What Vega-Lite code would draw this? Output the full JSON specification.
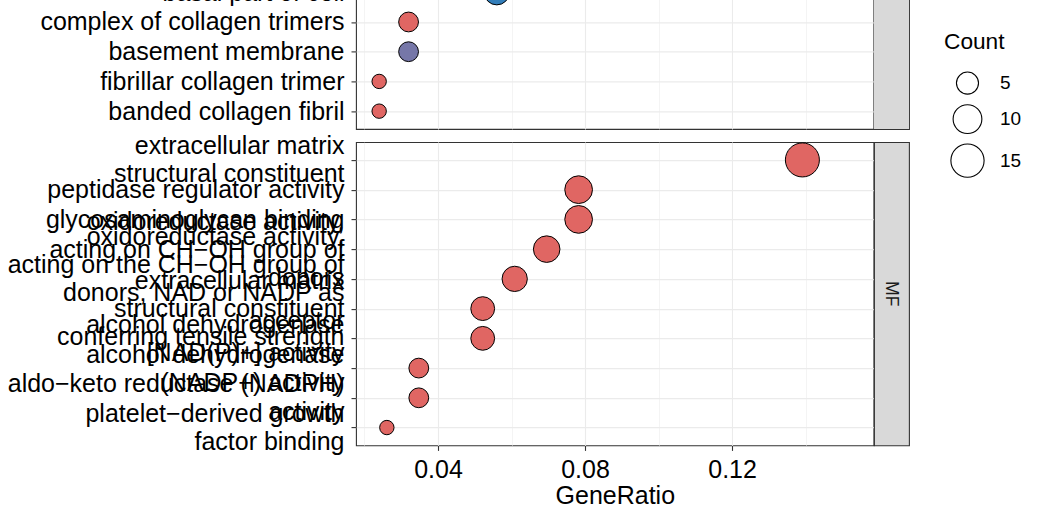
{
  "$schema": "https://vega.github.io/schema/vega-lite/v6.json",
  "autosize": {"type": "pad"},
  "padding": {"left": 6, "top": -26.6, "right": 5, "bottom": 5},
  "background": "white",
  "config": {
    "font": "Liberation Sans",
    "view": {"stroke": "#333333", "strokeWidth": 1.1},
    "axis": {"labelFont": "Liberation Sans", "titleFont": "Liberation Sans", "domain": false}
  },
  "datasets": {
    "go": [
      {"ont": "CC", "Description": "basal part of cell", "GeneRatio": 0.056, "Count": 7, "padj": 0.045},
      {"ont": "CC", "Description": "complex of collagen trimers", "GeneRatio": 0.032, "Count": 4, "padj": 0.001},
      {"ont": "CC", "Description": "basement membrane", "GeneRatio": 0.032, "Count": 4, "padj": 0.03},
      {"ont": "CC", "Description": "fibrillar collagen trimer", "GeneRatio": 0.024, "Count": 3, "padj": 0.001},
      {"ont": "CC", "Description": "banded collagen fibril", "GeneRatio": 0.024, "Count": 3, "padj": 0.001},
      {"ont": "MF", "Description": "extracellular matrix\nstructural constituent", "GeneRatio": 0.13913, "Count": 16, "padj": 0.001},
      {"ont": "MF", "Description": "peptidase regulator activity", "GeneRatio": 0.07826, "Count": 9, "padj": 0.001},
      {"ont": "MF", "Description": "glycosaminoglycan binding", "GeneRatio": 0.07826, "Count": 9, "padj": 0.001},
      {"ont": "MF", "Description": "oxidoreductase activity,\nacting on CH−OH group of\ndonors", "GeneRatio": 0.06957, "Count": 8, "padj": 0.001},
      {"ont": "MF", "Description": "oxidoreductase activity,\nacting on the CH−OH group of\ndonors, NAD or NADP as\nacceptor", "GeneRatio": 0.06087, "Count": 7, "padj": 0.001},
      {"ont": "MF", "Description": "extracellular matrix\nstructural constituent\nconferring tensile strength", "GeneRatio": 0.05217, "Count": 6, "padj": 0.001},
      {"ont": "MF", "Description": "alcohol dehydrogenase\n[NAD(P)+] activity", "GeneRatio": 0.05217, "Count": 6, "padj": 0.001},
      {"ont": "MF", "Description": "alcohol dehydrogenase\n(NADP+) activity", "GeneRatio": 0.03478, "Count": 4, "padj": 0.001},
      {"ont": "MF", "Description": "aldo−keto reductase (NADPH)\nactivity", "GeneRatio": 0.03478, "Count": 4, "padj": 0.001},
      {"ont": "MF", "Description": "platelet−derived growth\nfactor binding", "GeneRatio": 0.02609, "Count": 3, "padj": 0.001}
    ]
  },
  "columns": 2,
  "spacing": {"row": 12.7, "column": 0},
  "bounds": "flush",
  "resolve": {"scale": {"y": "independent", "x": "independent"}},
  "concat": [
    {
      "width": 517.6,
      "height": 154.6,
      "data": {"name": "go"},
      "transform": [{"filter": "datum.ont === 'CC'"}],
      "mark": {"type": "circle", "stroke": "black", "strokeWidth": 1, "opacity": 1},
      "encoding": {
        "x": {
          "field": "GeneRatio", "type": "quantitative",
          "scale": {"domain": [0.0177, 0.1585], "nice": false, "zero": false},
          "axis": {
            "values": [0.02, 0.04, 0.06, 0.08, 0.1, 0.12, 0.14],
            "labels": false, "ticks": false, "title": null, "grid": true,
            "gridColor": "#EBEBEB",
            "gridWidth": {"condition": {"test": "round(datum.value*100) % 4 === 0", "value": 1.1}, "value": 0.55}
          }
        },
        "y": {
          "field": "Description", "type": "nominal", "sort": null,
          "scale": {"type": "point", "padding": 0.6},
          "axis": {
            "labelExpr": "split(datum.label, '\\n')", "labelFontSize": 25, "labelColor": "black",
            "labelLineHeight": 28, "tickSize": 5, "tickWidth": 1.1, "tickColor": "#333333",
            "labelPadding": 7, "grid": true, "gridColor": "#EBEBEB", "gridWidth": 1.1,
            "title": null, "labelLimit": 500, "labelOverlap": false, "labelBound": false,
            "labelOffset": {"condition": [
              {"test": "length(split(datum.label, '\\n')) === 2", "value": -14},
              {"test": "length(split(datum.label, '\\n')) === 3", "value": -28},
              {"test": "length(split(datum.label, '\\n')) === 4", "value": -42}
            ], "value": 0}
          }
        },
        "size": {
          "field": "Count", "type": "quantitative",
          "scale": {"domain": [3, 4, 5, 6, 7, 8, 9, 10, 12, 15, 16, 19], "range": [207, 392, 488, 567, 639, 705, 768, 828, 943, 1104, 1156, 1306]},
          "legend": {
            "title": "Count", "values": [5, 10, 15], "orient": "right", "offset": -23,
            "titleFontSize": 22.7, "titleFontWeight": "normal", "titleColor": "black", "titleFont": "Liberation Sans",
            "labelFontSize": 19, "labelColor": "black", "labelFont": "Liberation Sans",
            "symbolType": "circle", "symbolFillColor": "white", "symbolStrokeColor": "black", "symbolStrokeWidth": 1.1, "symbolOpacity": 1,
            "padding": 57, "titlePadding": 17, "rowPadding": 5, "labelOffset": 15, "symbolOffset": 6,
            "encode": {"symbols": {"update": {"fill": {"value": "white"}, "fillOpacity": {"value": 1}, "stroke": {"value": "black"}, "strokeWidth": {"value": 1.1}, "opacity": {"value": 1}}}}
          }
        },
        "color": {
          "field": "padj", "type": "quantitative",
          "scale": {"domain": [0.001, 0.03, 0.045], "range": ["#e06663", "#7677a8", "#327eba"]},
          "legend": null
        }
      }
    },
    {
      "width": 35,
      "height": 154.6,
      "data": {"values": [{"strip": "CC"}]},
      "view": {"fill": "#D9D9D9", "stroke": "#333333", "strokeWidth": 1.1},
      "mark": {"type": "rect", "fill": "#D9D9D9"},
      "encoding": {}
    },
    {
      "width": 517.6,
      "height": 303.3,
      "data": {"name": "go"},
      "transform": [{"filter": "datum.ont === 'MF'"}],
      "mark": {"type": "circle", "stroke": "black", "strokeWidth": 1, "opacity": 1},
      "encoding": {
        "x": {
          "field": "GeneRatio", "type": "quantitative",
          "scale": {"domain": [0.0177, 0.1585], "nice": false, "zero": false},
          "axis": {
            "values": [0.02, 0.04, 0.06, 0.08, 0.1, 0.12, 0.14],
            "labelExpr": "round(datum.value*100) % 4 === 0 ? format(datum.value, '.2f') : ''",
            "labelFontSize": 25, "labelColor": "black", "labelPadding": 7, "labelFlush": false, "labelOverlap": false,
            "tickSize": 5, "tickWidth": 1.1, "tickColor": "#333333",
            "tickOpacity": {"condition": {"test": "round(datum.value*100) % 4 === 0", "value": 1}, "value": 0},
            "grid": true, "gridColor": "#EBEBEB",
            "gridWidth": {"condition": {"test": "round(datum.value*100) % 4 === 0", "value": 1.1}, "value": 0.55},
            "title": "GeneRatio", "titleFontSize": 25, "titleFontWeight": "normal", "titleColor": "black", "titlePadding": 1
          }
        },
        "y": {
          "field": "Description", "type": "nominal", "sort": null,
          "scale": {"type": "point", "padding": 0.6},
          "axis": {
            "labelExpr": "split(datum.label, '\\n')", "labelFontSize": 25, "labelColor": "black",
            "labelLineHeight": 28, "tickSize": 5, "tickWidth": 1.1, "tickColor": "#333333",
            "labelPadding": 7, "grid": true, "gridColor": "#EBEBEB", "gridWidth": 1.1,
            "title": null, "labelLimit": 500, "labelOverlap": false, "labelBound": false,
            "labelOffset": {"condition": [
              {"test": "length(split(datum.label, '\\n')) === 2", "value": -14},
              {"test": "length(split(datum.label, '\\n')) === 3", "value": -28},
              {"test": "length(split(datum.label, '\\n')) === 4", "value": -42}
            ], "value": 0}
          }
        },
        "size": {
          "field": "Count", "type": "quantitative",
          "scale": {"domain": [3, 4, 5, 6, 7, 8, 9, 10, 12, 15, 16, 19], "range": [207, 392, 488, 567, 639, 705, 768, 828, 943, 1104, 1156, 1306]},
          "legend": {
            "title": "Count", "values": [5, 10, 15], "orient": "right", "offset": -23,
            "titleFontSize": 22.7, "titleFontWeight": "normal", "titleColor": "black", "titleFont": "Liberation Sans",
            "labelFontSize": 19, "labelColor": "black", "labelFont": "Liberation Sans",
            "symbolType": "circle", "symbolFillColor": "white", "symbolStrokeColor": "black", "symbolStrokeWidth": 1.1, "symbolOpacity": 1,
            "padding": 57, "titlePadding": 17, "rowPadding": 5, "labelOffset": 15, "symbolOffset": 6,
            "encode": {"symbols": {"update": {"fill": {"value": "white"}, "fillOpacity": {"value": 1}, "stroke": {"value": "black"}, "strokeWidth": {"value": 1.1}, "opacity": {"value": 1}}}}
          }
        },
        "color": {
          "field": "padj", "type": "quantitative",
          "scale": {"domain": [0.001, 0.03, 0.045], "range": ["#e06663", "#7677a8", "#327eba"]},
          "legend": null
        }
      }
    },
    {
      "width": 35,
      "height": 303.3,
      "data": {"values": [{"strip": "MF"}]},
      "view": {"fill": "#D9D9D9", "stroke": "#333333", "strokeWidth": 1.1},
      "mark": {"type": "text", "angle": 90, "fontSize": 17.5, "color": "#1A1A1A", "font": "Liberation Sans", "align": "center", "baseline": "middle"},
      "encoding": {"text": {"field": "strip", "type": "nominal"}}
    }
  ]
}
